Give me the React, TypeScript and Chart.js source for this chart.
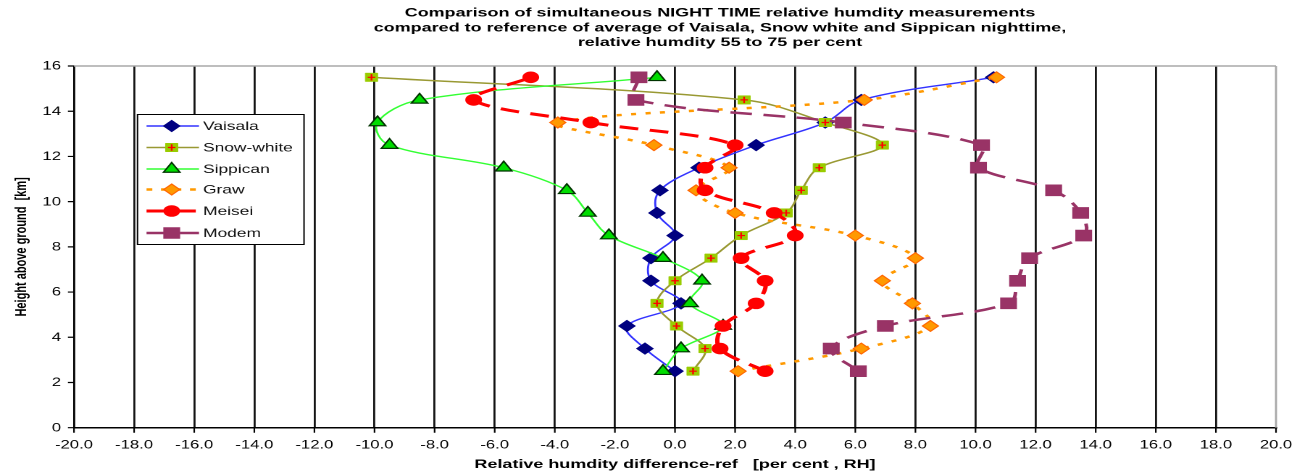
import React, { useEffect, useRef } from 'react';
import { Chart, registerables } from 'chart.js';

Chart.register(...registerables);

// ---------- data ----------
const heights = [2.5, 3.5, 4.5, 5.5, 6.5, 7.5, 8.5, 9.5, 10.5, 11.5, 12.5, 13.5, 14.5, 15.5];
const vaisala = [0.0, -1.0, -1.6, 0.2, -0.8, -0.8, 0.0, -0.6, -0.5, 0.8, 2.7, 5.0, 6.2, 10.6];
const snowWhite = [0.6, 1.0, 0.05, -0.6, 0.0, 1.2, 2.2, 3.7, 4.2, 4.8, 6.9, 5.0, 2.3, -10.1];
const sippican = [-0.4, 0.2, 1.6, 0.5, 0.9, -0.4, -2.2, -2.9, -3.6, -5.7, -9.5, -9.9, -8.5, -0.6];
const graw = [2.1, 6.2, 8.5, 7.9, 6.9, 8.0, 6.0, 2.0, 0.7, 1.8, -0.7, -3.9, 6.3, 10.7];
const meisei = [3.0, 1.5, 1.6, 2.7, 3.0, 2.2, 4.0, 3.3, 1.0, 1.0, 2.0, -2.8, -6.7, -4.8];
const modem = [6.1, 5.2, 7.0, 11.1, 11.4, 11.8, 13.6, 13.5, 12.6, 10.1, 10.2, 5.6, -1.3, -1.2];

const seriesNames = ['Vaisala', 'Snow-white', 'Sippican', 'Graw', 'Meisei', 'Modem'];
const seriesValues = [vaisala, snowWhite, sippican, graw, meisei, modem];

const xTicks = [-20, -18, -16, -14, -12, -10, -8, -6, -4, -2, 0, 2, 4, 6, 8, 10, 12, 14, 16, 18, 20];
const xTickLabels = ['-20.0', '-18.0', '-16.0', '-14.0', '-12.0', '-10.0', '-8.0', '-6.0', '-4.0', '-2.0', '0.0',
  '2.0', '4.0', '6.0', '8.0', '10.0', '12.0', '14.0', '16.0', '18.0', '20.0'];
const yTicks = [0, 2, 4, 6, 8, 10, 12, 14, 16];
const yTickLabels = ['0', '2', '4', '6', '8', '10', '12', '14', '16'];

const titleLines = [
  'Comparison of simultaneous NIGHT TIME relative humdity measurements',
  'compared to reference of average of Vaisala, Snow white and Sippican nighttime,',
  'relative humdity 55 to 75 per cent',
];
const xTitle = 'Relative humdity difference-ref   [per cent , RH]';
const yTitle = 'Height above ground  [km]';

// ---------- styles ----------
type St = { line: string; width: number; dash: number[]; point: string; radius: number; fill: string; stroke: string; pbw: number; cross?: boolean };
const seriesStyles: St[] = [
  { line: '#3333FF', width: 1.4, dash: [], point: 'rectRot', radius: 5.5, fill: '#000080', stroke: '#000080', pbw: 1 },
  { line: '#999933', width: 1.5, dash: [], point: 'rect', radius: 6, fill: '#99CC00', stroke: '#99CC00', pbw: 0.5, cross: true },
  { line: '#33FF33', width: 1.4, dash: [], point: 'triangle', radius: 6.5, fill: '#00DD00', stroke: '#003300', pbw: 1.2 },
  { line: '#FF9900', width: 2.5, dash: [3.5, 6.5], point: 'rectRot', radius: 5.5, fill: '#FF9900', stroke: '#FF6600', pbw: 1 },
  { line: '#FF0000', width: 3, dash: [13, 8], point: 'circle', radius: 5.3, fill: '#FF0000', stroke: '#FF0000', pbw: 1 },
  { line: '#993366', width: 2.5, dash: [15, 8], point: 'rect', radius: 7.5, fill: '#993366', stroke: '#993366', pbw: 1 },
];

const DISPLAY_W = 1297;
const H = 471;
const W = 895;
const S = DISPLAY_W / W; // horizontal stretch
const lx = (px: number) => px / S;

const FONT = '"Liberation Sans", Arial, Helvetica, sans-serif';

function markerPath(ctx: CanvasRenderingContext2D, style: string, x: number, y: number, r: number) {
  ctx.beginPath();
  if (style === 'rectRot') {
    ctx.moveTo(x, y - r); ctx.lineTo(x + r, y); ctx.lineTo(x, y + r); ctx.lineTo(x - r, y);
    ctx.closePath();
  } else if (style === 'rect') {
    const h = r * Math.SQRT1_2;
    ctx.rect(x - h, y - h, 2 * h, 2 * h);
  } else if (style === 'triangle') {
    let a = 0;
    ctx.moveTo(x + Math.sin(a) * r, y - Math.cos(a) * r);
    a += (2 * Math.PI) / 3;
    ctx.lineTo(x + Math.sin(a) * r, y - Math.cos(a) * r);
    a += (2 * Math.PI) / 3;
    ctx.lineTo(x + Math.sin(a) * r, y - Math.cos(a) * r);
    ctx.closePath();
  } else {
    ctx.arc(x, y, r, 0, Math.PI * 2);
  }
}

function drawCross(ctx: CanvasRenderingContext2D, x: number, y: number) {
  ctx.save();
  ctx.strokeStyle = '#FF0000';
  ctx.lineWidth = 1.2;
  ctx.setLineDash([]);
  ctx.beginPath();
  ctx.moveTo(x - 2.6, y); ctx.lineTo(x + 2.6, y);
  ctx.moveTo(x, y - 3.2); ctx.lineTo(x, y + 3.2);
  ctx.stroke();
  ctx.restore();
}

const decorPlugin = {
  id: 'decor',
  afterDatasetDraw(chart: any, args: any) {
    const st = seriesStyles[args.index];
    if (!st || !st.cross) return;
    const ctx = chart.ctx;
    for (const p of args.meta.data) drawCross(ctx, p.x, p.y);
  },
  afterDraw(chart: any) {
    const ctx: CanvasRenderingContext2D = chart.ctx;
    const xs = chart.scales.x;
    const ys = chart.scales.y;
    const a = chart.chartArea;
    ctx.save();

    // top & right frame
    ctx.strokeStyle = '#a8a8a8';
    ctx.lineWidth = 1.5;
    ctx.beginPath(); ctx.moveTo(a.left, a.top); ctx.lineTo(a.right, a.top); ctx.stroke();
    ctx.lineWidth = 1.4;
    ctx.beginPath(); ctx.moveTo(a.right, a.top); ctx.lineTo(a.right, a.bottom); ctx.stroke();

    // tick marks
    ctx.strokeStyle = '#000';
    ctx.lineWidth = 1.1;
    ctx.beginPath();
    xTicks.forEach((v) => {
      const x = xs.getPixelForValue(v);
      ctx.moveTo(x, a.bottom); ctx.lineTo(x, a.bottom + 5);
    });
    ctx.stroke();
    ctx.lineWidth = 1.2;
    ctx.beginPath();
    yTicks.forEach((v) => {
      const y = ys.getPixelForValue(v);
      ctx.moveTo(a.left - 4.2, y); ctx.lineTo(a.left, y);
    });
    ctx.stroke();

    // tick labels
    ctx.fillStyle = '#000';
    ctx.font = `11.5px ${FONT}`;
    ctx.textAlign = 'center';
    ctx.textBaseline = 'alphabetic';
    xTicks.forEach((v, i) => ctx.fillText(xTickLabels[i], xs.getPixelForValue(v), 448.5));
    ctx.textAlign = 'right';
    ctx.textBaseline = 'middle';
    yTicks.forEach((v, i) => ctx.fillText(yTickLabels[i], lx(61), ys.getPixelForValue(v) + 0.5));

    // title
    ctx.font = `bold 12.4px ${FONT}`;
    ctx.textAlign = 'center';
    ctx.textBaseline = 'alphabetic';
    const tb = [16.6, 31.4, 46.2];
    titleLines.forEach((t, i) => ctx.fillText(t, lx(720), tb[i]));

    // axis titles
    ctx.font = `bold 12.4px ${FONT}`;
    ctx.fillText(xTitle, (a.left + a.right) / 2, 468);
    ctx.save();
    ctx.translate(lx(21.5), (a.top + a.bottom) / 2);
    ctx.rotate(-Math.PI / 2);
    ctx.textBaseline = 'middle';
    ctx.font = `bold 11px ${FONT}`;
    ctx.fillText(yTitle, 0, 0);
    ctx.restore();

    // legend
    const bx0 = lx(137.5), bx1 = lx(304), by0 = 114.5, by1 = 244.5;
    ctx.fillStyle = '#fff';
    ctx.fillRect(bx0, by0, bx1 - bx0, by1 - by0);
    ctx.strokeStyle = '#000';
    ctx.lineWidth = 1;
    ctx.strokeRect(bx0, by0, bx1 - bx0, by1 - by0);
    const rowY = [126, 147.5, 169, 189.5, 211, 233];
    const l0 = lx(146.5), l1 = lx(199), mx = lx(171.7), tx = lx(203);
    seriesNames.forEach((name, i) => {
      const st = seriesStyles[i];
      const y = rowY[i];
      ctx.save();
      ctx.strokeStyle = st.line;
      ctx.lineWidth = st.width;
      ctx.setLineDash(st.dash.length ? [st.dash[0], st.dash[1]] : []);
      if (i === 3) ctx.setLineDash([4, 6]);
      ctx.beginPath(); ctx.moveTo(l0, y); ctx.lineTo(l1, y); ctx.stroke();
      ctx.setLineDash([]);
      markerPath(ctx, st.point, mx, y, st.radius);
      ctx.fillStyle = st.fill;
      ctx.fill();
      ctx.lineWidth = st.pbw;
      ctx.strokeStyle = st.stroke;
      ctx.stroke();
      if (st.cross) drawCross(ctx, mx, y);
      ctx.restore();
      ctx.fillStyle = '#111';
      ctx.font = `12px ${FONT}`;
      ctx.textAlign = 'left';
      ctx.textBaseline = 'middle';
      ctx.fillText(name, tx, y + 0.5);
    });

    ctx.restore();
  },
};

export default function App() {
  const ref = useRef<HTMLCanvasElement>(null);

  useEffect(() => {
    const canvas = ref.current;
    if (!canvas) return;
    const datasets = seriesNames.map((name, i) => {
      const st = seriesStyles[i];
      return {
        label: name,
        data: heights.map((h, k) => ({ x: seriesValues[i][k], y: h })),
        showLine: true,
        fill: false,
        borderColor: st.line,
        borderWidth: st.width,
        borderDash: st.dash,
        tension: 0.35,
        pointStyle: st.point,
        pointRadius: st.radius,
        pointHoverRadius: st.radius,
        pointBackgroundColor: st.fill,
        pointBorderColor: st.stroke,
        pointBorderWidth: st.pbw,
        order: seriesNames.length - i,
      };
    });

    const chart = new Chart(canvas, {
      type: 'scatter',
      data: { datasets } as any,
      options: {
        animation: false,
        responsive: false,
        devicePixelRatio: 2,
        events: [],
        layout: {
          padding: { left: lx(74), right: W - lx(1276), top: 66, bottom: H - 427.7 },
        },
        plugins: {
          legend: { display: false },
          title: { display: false },
          tooltip: { enabled: false },
        },
        scales: {
          x: {
            type: 'linear',
            min: -20,
            max: 20,
            ticks: { display: false, stepSize: 2 },
            grid: {
              drawTicks: false,
              lineWidth: 1.4,
              color: (c: any) => (c.tick && (c.tick.value === -20 || c.tick.value === 20) ? 'rgba(0,0,0,0)' : '#141414'),
            },
            border: { display: true, color: '#000', width: 1.5 },
          },
          y: {
            type: 'linear',
            min: 0,
            max: 16,
            ticks: { display: false, stepSize: 2 },
            grid: { display: false, drawTicks: false },
            border: { display: true, color: '#000', width: 1.4 },
          },
        },
      } as any,
      plugins: [decorPlugin],
    });
    return () => chart.destroy();
  }, []);

  return (
    <div style={{ position: 'fixed', left: 0, top: 0, width: DISPLAY_W, height: H, background: '#fff' }}>
      <canvas ref={ref} width={W} height={H} style={{ width: `${DISPLAY_W}px`, height: `${H}px`, display: 'block' }} />
    </div>
  );
}
